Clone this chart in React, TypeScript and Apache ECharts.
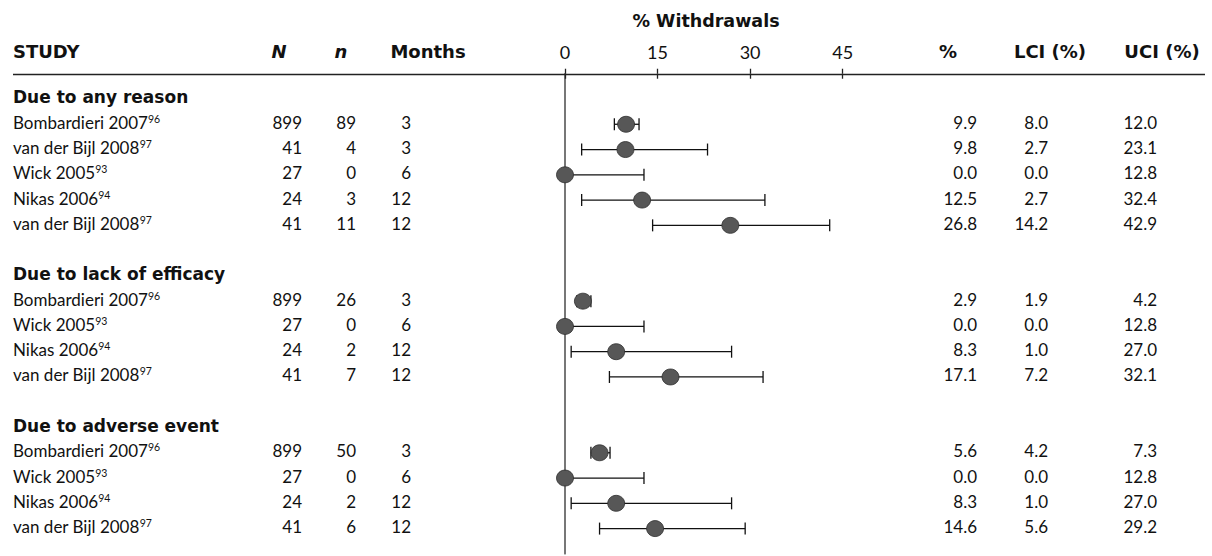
import React, { useEffect, useRef } from "react";
import * as echarts from "echarts";

// ---------- data ----------
const sections = ["Due to any reason", "Due to lack of efficacy", "Due to adverse event"];
const rowSection = [0, 0, 0, 0, 0, 1, 1, 1, 1, 2, 2, 2, 2];
const studies = [
  "Bombardieri 2007", "van der Bijl 2008", "Wick 2005", "Nikas 2006", "van der Bijl 2008",
  "Bombardieri 2007", "Wick 2005", "Nikas 2006", "van der Bijl 2008",
  "Bombardieri 2007", "Wick 2005", "Nikas 2006", "van der Bijl 2008",
];
const refs = ["96", "97", "93", "94", "97", "96", "93", "94", "97", "96", "93", "94", "97"];
const bigN = [899, 41, 27, 24, 41, 899, 27, 24, 41, 899, 27, 24, 41];
const smallN = [89, 4, 0, 3, 11, 26, 0, 2, 7, 50, 0, 2, 6];
const months = [3, 3, 6, 12, 12, 3, 6, 12, 12, 3, 6, 12, 12];
const pct = [9.9, 9.8, 0.0, 12.5, 26.8, 2.9, 0.0, 8.3, 17.1, 5.6, 0.0, 8.3, 14.6];
const lci = [8.0, 2.7, 0.0, 2.7, 14.2, 1.9, 0.0, 1.0, 7.2, 4.2, 0.0, 1.0, 5.6];
const uci = [12.0, 23.1, 12.8, 32.4, 42.9, 4.2, 12.8, 27.0, 32.1, 7.3, 12.8, 27.0, 29.2];
const xTickValues = [0, 15, 30, 45];
const axisTitle = "% Withdrawals";
const headerLabels = ["STUDY", "N", "n", "Months", "%", "LCI (%)", "UCI (%)"];

// slot (row position) for each section header and each study row
const sectionSlot: number[] = [];
const rowSlot: number[] = [];
(() => {
  let s = 0;
  sections.forEach((_, k) => {
    sectionSlot.push(s);
    s++;
    rowSection.forEach((sec, i) => {
      if (sec === k) {
        rowSlot[i] = s;
        s++;
      }
    });
    s++;
  });
})();

const REG = "Lato";
const BOLD = "DejaVu Sans";
const INK = "#111";

export default function App() {
  const ref = useRef<HTMLDivElement>(null);
  useEffect(() => {
    if (!ref.current) return;
    const chart = echarts.init(ref.current, undefined, { renderer: "svg" });
    const pxPerUnit = 6.17;
    const rowH = 25.27;
    const firstSlotY = 99;
    const yMin = -1;
    const yMax = 18;
    const gridLeft = 565;
    const gridTop = firstSlotY + yMin * rowH;

    const numStyle = (t: string, x: number, y: number) => ({
      type: "text",
      x,
      y,
      style: {
        text: t,
        fill: INK,
        fontFamily: REG,
        fontSize: 17,
        align: "right",
        verticalAlign: "middle",
      },
    });

    const headerY = 51;
    const headerPos: [number, string][] = [
      [13, "left"], [279, "center"], [341, "center"], [428, "center"],
      [948, "center"], [1050, "center"], [1162, "center"],
    ];

    const baseX = {
      type: "value",
      position: "top",
      min: 0,
      max: 45,
      interval: 15,
      splitLine: { show: false },
    };

    chart.setOption({
      animation: false,
      grid: {
        left: gridLeft,
        top: gridTop,
        width: pxPerUnit * 45,
        height: rowH * (yMax - yMin),
        containLabel: false,
      },
      xAxis: [
        {
          ...baseX,
          axisLine: { show: false, onZero: false },
          axisTick: { show: true, inside: false, length: 5, lineStyle: { color: "#222", width: 1.3 } },
          axisLabel: {
            show: true,
            margin: 13,
            fontFamily: REG,
            fontSize: 18,
            color: INK,
            customValues: xTickValues,
          },
        },
        {
          ...baseX,
          offset: 0,
          axisLine: { show: false, onZero: false },
          axisTick: { show: true, inside: true, length: 5, lineStyle: { color: "#222", width: 1.3 } },
          axisLabel: { show: false },
        },
      ],
      yAxis: {
        type: "value",
        min: yMin,
        max: yMax,
        inverse: true,
        axisLine: { show: true, onZero: false, lineStyle: { color: "#555", width: 1.6 } },
        axisTick: { show: false },
        axisLabel: { show: false },
        splitLine: { show: false },
      },
      graphic: [
        {
          type: "line",
          shape: { x1: 13, y1: 74.5, x2: 1205, y2: 74.5 },
          style: { stroke: "#222", lineWidth: 1.5 },
          z: 10,
        },
        {
          type: "text",
          x: 706,
          y: 21,
          style: {
            text: axisTitle,
            fill: INK,
            fontFamily: BOLD,
            fontWeight: "bold",
            fontSize: 17.5,
            align: "center",
            verticalAlign: "middle",
          },
        },
        ...headerLabels.map((t, k) => ({
          type: "text",
          x: headerPos[k][0],
          y: headerY,
          style: {
            text: t,
            fill: INK,
            fontFamily: BOLD,
            fontWeight: "bold",
            fontStyle: k === 1 || k === 2 ? "italic" : "normal",
            fontSize: 18,
            align: headerPos[k][1],
            verticalAlign: "middle",
          },
        })),
      ],
      series: [
        {
          type: "custom",
          name: "ci",
          clip: false,
          z: 3,
          data: lci.map((l, i) => [l, uci[i], rowSlot[i]]),
          encode: { x: [0, 1], y: 2 },
          renderItem: (_p: any, api: any) => {
            const lo = api.coord([api.value(0), api.value(2)]);
            const hi = api.coord([api.value(1), api.value(2)]);
            const h = 6;
            const st = { stroke: "#111", lineWidth: 1.3 };
            return {
              type: "group",
              children: [
                { type: "line", shape: { x1: lo[0], y1: lo[1], x2: hi[0], y2: hi[1] }, style: st },
                { type: "line", shape: { x1: lo[0], y1: lo[1] - h, x2: lo[0], y2: lo[1] + h }, style: st },
                { type: "line", shape: { x1: hi[0], y1: hi[1] - h, x2: hi[0], y2: hi[1] + h }, style: st },
              ],
            };
          },
        },
        {
          type: "scatter",
          name: "pct",
          clip: false,
          z: 5,
          symbol: "circle",
          symbolSize: [17, 16],
          itemStyle: { color: "#575757", borderColor: "#2e2e2e", borderWidth: 0.8, opacity: 1 },
          data: pct.map((v, i) => [v, rowSlot[i]]),
        },
        {
          type: "custom",
          name: "sections",
          clip: false,
          z: 2,
          data: sections.map((_, k) => [0, sectionSlot[k]]),
          renderItem: (p: any, api: any) => {
            const y = api.coord([0, api.value(1)])[1] - 2;
            return {
              type: "text",
              x: 13,
              y,
              style: {
                text: sections[p.dataIndex],
                fill: INK,
                fontFamily: BOLD,
                fontWeight: "bold",
                fontSize: 17,
                align: "left",
                verticalAlign: "middle",
              },
            };
          },
        },
        {
          type: "custom",
          name: "rows",
          clip: false,
          z: 2,
          data: studies.map((_, i) => [0, rowSlot[i]]),
          renderItem: (p: any, api: any) => {
            const i = p.dataIndex;
            const y = api.coord([0, api.value(1)])[1] - 2;
            return {
              type: "group",
              children: [
                {
                  type: "text",
                  x: 13,
                  y,
                  style: {
                    text: `{a|${studies[i]}}{b|${refs[i]}}`,
                    align: "left",
                    verticalAlign: "middle",
                    rich: {
                      a: { fontFamily: REG, fontSize: 17, fill: INK, lineHeight: 18 },
                      b: { fontFamily: REG, fontSize: 10.5, fill: INK, lineHeight: 10, verticalAlign: "top" },
                    },
                  },
                },
                numStyle(String(bigN[i]), 302, y),
                numStyle(String(smallN[i]), 356, y),
                numStyle(String(months[i]), 411, y),
                numStyle(pct[i].toFixed(1), 977, y),
                numStyle(lci[i].toFixed(1), 1048, y),
                numStyle(uci[i].toFixed(1), 1157, y),
              ],
            };
          },
        },
      ],
    });
    return () => chart.dispose();
  }, []);
  return (
    <div
      ref={ref}
      style={{ position: "fixed", left: 0, top: 0, width: 1212, height: 556, background: "#fff" }}
    />
  );
}
